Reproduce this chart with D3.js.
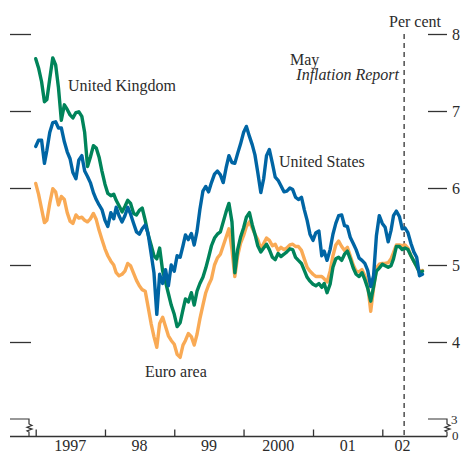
<!DOCTYPE html>
<html>
<head>
<meta charset="utf-8">
<script src="https://cdn.jsdelivr.net/npm/d3@7"></script>
<style>
  body { margin: 0; background: #fff; }
  text { font-family: "Liberation Serif", "DejaVu Serif", serif; fill: #2b2b2b; }
</style>
</head>
<body>
<script>
// semi-monthly observation dates, 1 Jan 1997 to 1 Aug 2002
var dates = [];
for (var yr = 1997; yr <= 2002; yr++) {
  for (var m = 0; m < 12; m++) {
    [1, 16].forEach(function(d){
      var dt = new Date(yr, m, d);
      if (dt <= new Date(2002, 7, 1)) dates.push(dt);
    });
  }
}

// ten-year government bond yields, per cent
var euroArea = [6.06,5.92,5.73,5.55,5.58,5.80,5.99,5.95,5.78,5.89,5.85,5.68,5.57,5.54,5.65,5.61,5.62,5.58,5.56,5.60,
  5.67,5.59,5.45,5.33,5.21,5.12,5.05,5.00,4.90,4.86,4.88,4.92,5.02,4.99,4.89,4.80,4.73,4.68,4.66,4.46,
  4.24,4.07,3.93,4.24,4.32,4.20,4.08,4.02,3.97,3.84,3.80,3.96,4.02,4.11,4.07,3.96,4.10,4.30,4.48,4.64,
  4.74,4.82,5.00,5.09,5.14,5.25,5.36,5.47,5.20,4.85,5.12,5.28,5.38,5.50,5.56,5.48,5.40,5.33,5.21,5.28,
  5.35,5.32,5.25,5.27,5.19,5.23,5.20,5.22,5.26,5.27,5.24,5.24,5.19,5.08,4.97,4.92,4.88,4.85,4.85,4.85,
  4.82,4.78,4.92,5.12,5.26,5.31,5.24,5.19,5.23,5.12,5.00,4.92,4.91,4.94,4.86,4.74,4.40,4.70,4.96,5.01,
  5.02,5.02,5.03,5.08,5.16,5.26,5.26,5.25,5.26,5.22,5.12,5.05,4.98,4.92,4.93];

var unitedKingdom = [7.68,7.56,7.38,7.12,7.15,7.42,7.69,7.60,7.30,6.88,7.08,7.02,6.95,6.91,6.98,6.99,6.93,6.72,6.28,6.40,
  6.55,6.52,6.40,6.22,6.05,5.93,5.90,5.92,5.84,5.77,5.69,5.76,5.84,5.80,5.67,5.65,5.71,5.74,5.58,5.40,
  5.26,5.12,5.08,5.22,4.92,4.78,4.63,4.48,4.36,4.20,4.25,4.42,4.56,4.52,4.64,4.48,4.66,4.76,4.84,4.96,
  5.10,5.25,5.35,5.40,5.43,5.56,5.69,5.80,5.56,4.90,5.20,5.36,5.48,5.62,5.68,5.52,5.40,5.25,5.17,5.22,
  5.27,5.20,5.10,5.07,5.15,5.11,5.14,5.17,5.21,5.20,5.10,5.06,5.02,4.93,4.84,4.79,4.75,4.73,4.76,4.71,
  4.76,4.64,4.75,4.97,5.08,5.10,5.06,5.14,5.18,5.08,4.96,4.88,4.85,4.90,4.81,4.70,4.53,4.72,4.92,4.96,
  5.01,4.99,4.97,4.99,5.08,5.24,5.24,5.20,5.22,5.20,5.12,5.05,4.98,4.90,4.92];

var unitedStates = [6.54,6.62,6.62,6.32,6.49,6.72,6.85,6.86,6.78,6.78,6.60,6.47,6.38,6.20,6.12,6.36,6.42,6.22,6.15,6.07,
  5.94,5.85,5.78,5.72,5.58,5.50,5.68,5.60,5.75,5.64,5.56,5.64,5.75,5.66,5.54,5.43,5.40,5.47,5.52,5.41,
  5.15,4.90,4.36,4.88,4.76,4.94,4.73,5.00,4.92,5.12,5.10,5.25,5.39,5.33,5.41,5.26,5.44,5.72,5.96,6.02,
  5.95,6.07,6.18,6.22,6.17,6.07,6.26,6.42,6.33,6.32,6.45,6.57,6.72,6.80,6.67,6.56,6.43,6.20,5.94,6.12,
  6.42,6.50,6.32,6.14,6.10,6.03,5.95,5.96,6.00,5.98,5.88,5.85,5.88,5.72,5.58,5.40,5.32,5.42,5.44,5.12,
  5.18,5.06,5.20,5.40,5.54,5.64,5.65,5.51,5.50,5.36,5.28,5.20,5.09,5.06,5.02,4.93,4.72,4.86,5.38,5.64,
  5.54,5.49,5.30,5.45,5.64,5.70,5.63,5.47,5.48,5.42,5.28,5.17,5.10,4.86,4.88];

var yearTicks = [new Date(1997,0,1), new Date(1998,0,1), new Date(1999,0,1), new Date(2000,0,1), new Date(2001,0,1), new Date(2002,0,1)];
var yearLabels = ["1997", "98", "99", "2000", "01", "02"];
var yTicks = [4, 5, 6, 7, 8];
var mayReportDate = new Date(2002, 3, 26);

var W = 466, H = 453;
var baseline = 436.5;

var svg = d3.select("body").append("svg")
  .attr("width", W)
  .attr("height", H);

var x = d3.scaleTime()
  .domain([yearTicks[0], yearTicks[5]])
  .range([35.7, 382.3]);

var y = d3.scaleLinear()
  .domain([3, 8])
  .range([419, 34]);

// axis line and year ticks
svg.append("line")
  .attr("x1", 10).attr("x2", 447)
  .attr("y1", baseline).attr("y2", baseline)
  .attr("stroke", "#333").attr("stroke-width", 1.3);

var xAxis = svg.append("g")
  .attr("transform", "translate(0," + baseline + ")")
  .call(d3.axisBottom(x).tickValues(yearTicks).tickSize(-7).tickFormat(""));
xAxis.select(".domain").remove();
xAxis.selectAll(".tick line").attr("stroke", "#333").attr("stroke-width", 1.3);

var lastDate = dates[dates.length - 1];
svg.selectAll(".yearLabel")
  .data(yearLabels)
  .enter().append("text")
  .attr("class", "yearLabel")
  .attr("x", function(d, i){
    var next = i < yearTicks.length - 1 ? yearTicks[i + 1] : lastDate;
    return (x(yearTicks[i]) + x(next)) / 2;
  })
  .attr("y", 451)
  .attr("text-anchor", "middle")
  .attr("font-size", 16)
  .text(function(d){ return d; });

// left ticks, no labels
var leftAxis = svg.append("g")
  .attr("transform", "translate(31,0)")
  .call(d3.axisLeft(y).tickValues(yTicks).tickSize(21).tickFormat(""));
leftAxis.select(".domain").remove();
leftAxis.selectAll(".tick line").attr("stroke", "#333").attr("stroke-width", 1.3);

// right ticks with labels
var rightAxis = svg.append("g")
  .attr("transform", "translate(428,0)")
  .call(d3.axisRight(y).tickValues(yTicks).tickSize(19).tickPadding(5).tickFormat(d3.format("d")));
rightAxis.select(".domain").remove();
rightAxis.selectAll(".tick line").attr("stroke", "#333").attr("stroke-width", 1.3);
rightAxis.selectAll(".tick text")
  .attr("font-size", 16)
  .attr("font-family", "Liberation Serif")
  .attr("fill", "#2b2b2b");

// axis breaks between 3 and 0
function breakPath(x0, x1){
  var y0 = y(3);
  return "M" + x0 + "," + y0 + "H" + x1 + "V" + (y0 + 5) +
    "l3,1.5l-5,1.8l5,1.8l-5,1.8l2,1.2V" + baseline;
}
svg.append("path")
  .attr("d", breakPath(10, 29))
  .attr("fill", "none").attr("stroke", "#333").attr("stroke-width", 1.2);
svg.append("path")
  .attr("d", breakPath(428, 447))
  .attr("fill", "none").attr("stroke", "#333").attr("stroke-width", 1.2);

svg.append("text").attr("x", 451).attr("y", y(3) + 4.5).attr("font-size", 13).text("3");
svg.append("text").attr("x", 452).attr("y", baseline + 3).attr("font-size", 13).text("0");

svg.append("text")
  .attr("x", 389).attr("y", 27)
  .attr("font-size", 16)
  .text("Per cent");

// May Inflation Report marker
svg.append("line")
  .attr("x1", x(mayReportDate)).attr("x2", x(mayReportDate))
  .attr("y1", 34).attr("y2", baseline)
  .attr("stroke", "#333").attr("stroke-width", 1.3)
  .attr("stroke-dasharray", "5,4");

svg.append("text")
  .attr("x", 290).attr("y", 65)
  .attr("font-size", 16)
  .text("May");
svg.append("text")
  .attr("x", 399).attr("y", 80)
  .attr("text-anchor", "end")
  .attr("font-size", 16)
  .attr("font-style", "italic")
  .text("Inflation Report");

// series lines
var line = d3.line()
  .x(function(d, i){ return x(dates[i]); })
  .y(function(d){ return y(d); });

var series = [
  {name: "Euro area", values: euroArea, color: "#f9aa55"},
  {name: "United Kingdom", values: unitedKingdom, color: "#00845a"},
  {name: "United States", values: unitedStates, color: "#0065a4"}
];

svg.selectAll(".series")
  .data(series)
  .enter().append("path")
  .attr("class", "series")
  .attr("d", function(d){ return line(d.values); })
  .attr("fill", "none")
  .attr("stroke", function(d){ return d.color; })
  .attr("stroke-width", 3.4)
  .attr("stroke-linejoin", "round")
  .attr("stroke-linecap", "round");

// series labels
svg.append("text").attr("x", 68).attr("y", 91).attr("font-size", 16).text("United Kingdom");
svg.append("text").attr("x", 279).attr("y", 166.5).attr("font-size", 16).text("United States");
svg.append("text").attr("x", 145).attr("y", 377).attr("font-size", 16).text("Euro area");
</script>
</body>
</html>
